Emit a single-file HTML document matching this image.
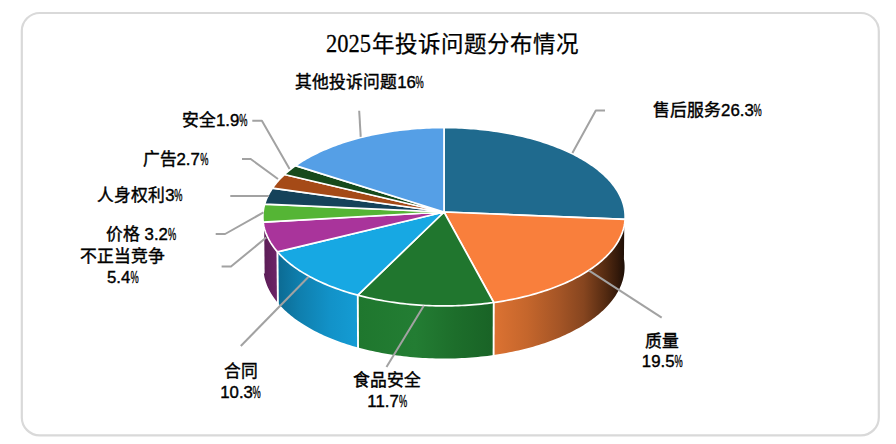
<!DOCTYPE html>
<html lang="zh-CN"><head><meta charset="utf-8"><title>2025年投诉问题分布情况</title>
<style>
html,body{margin:0;padding:0;background:#fff;}
body{width:896px;height:444px;position:relative;overflow:hidden;font-family:"Liberation Sans",sans-serif;}
.title{position:absolute;left:9px;width:887px;top:30.8px;text-align:center;font-family:"Liberation Serif",serif;font-size:22.5px;line-height:28px;color:#000;-webkit-text-stroke:0.25px #000;white-space:nowrap;letter-spacing:0;}
.yr{display:inline-block;transform:scale(1,1.1);transform-origin:0 78%;margin-right:1px;}
.lab{position:absolute;font-family:"Liberation Sans",sans-serif;font-weight:normal;-webkit-text-stroke:0.4px #000;font-size:16.8px;line-height:20.5px;color:#000;white-space:nowrap;text-align:center;transform:translateX(-50%);}
.p{display:inline-block;transform:scaleX(0.55);transform-origin:0 50%;margin-right:-6.7px;}
#l1{left:707.5px;top:101.1px}
#l2{left:662.3px;top:331.9px}
#l3{left:387.2px;top:371.4px}
#l4{left:240.7px;top:362.1px}
#l5{left:122.8px;top:247.3px}
#l6{left:141px;top:224.9px}
#l7{left:140px;top:185.5px}
#l8{left:175.3px;top:150px}
#l9{left:214.8px;top:111.3px}
#l10{left:359.7px;top:73.1px}
</style></head><body>
<svg width="896" height="444" viewBox="0 0 896 444" style="position:absolute;left:0;top:0">
<rect x="21.8" y="13" width="857" height="422.4" rx="18" ry="18" fill="#fff" stroke="#D9D9D9" stroke-width="2.2"/>
<defs><linearGradient id="g1" gradientUnits="userSpaceOnUse" x1="494" y1="0" x2="625" y2="0"><stop offset="0.0000" stop-color="#DC7232"/><stop offset="0.2519" stop-color="#C5662C"/><stop offset="0.4962" stop-color="#A55526"/><stop offset="0.6870" stop-color="#86451F"/><stop offset="0.8550" stop-color="#532A11"/><stop offset="0.9466" stop-color="#33190A"/><stop offset="1.0000" stop-color="#1C0E06"/></linearGradient><linearGradient id="g2" gradientUnits="userSpaceOnUse" x1="358" y1="0" x2="493" y2="0"><stop offset="0.0000" stop-color="#1F772E"/><stop offset="0.4222" stop-color="#237D33"/><stop offset="0.7185" stop-color="#1D6E2B"/><stop offset="1.0000" stop-color="#196326"/></linearGradient><linearGradient id="g3" gradientUnits="userSpaceOnUse" x1="277" y1="0" x2="358" y2="0"><stop offset="0.0000" stop-color="#0C6A92"/><stop offset="0.2840" stop-color="#0F7FAE"/><stop offset="0.6543" stop-color="#1292C8"/><stop offset="1.0000" stop-color="#149CD4"/></linearGradient><linearGradient id="g4" gradientUnits="userSpaceOnUse" x1="263" y1="0" x2="278" y2="0"><stop offset="0.0000" stop-color="#5A1D55"/><stop offset="1.0000" stop-color="#6E2468"/></linearGradient><linearGradient id="g5" gradientUnits="userSpaceOnUse" x1="262" y1="0" x2="264" y2="0"><stop offset="0.0000" stop-color="#5A1D55"/><stop offset="1.0000" stop-color="#5A1D55"/></linearGradient></defs>
<path d="M624.45 208.90L624.70 210.45L624.19 260.51L623.94 258.92ZM624.70 210.45L624.90 212.00L624.38 262.10L624.19 260.51ZM624.90 212.00L625.04 213.55L624.52 263.69L624.38 262.10ZM625.04 213.55L625.13 215.10L624.61 265.28L624.52 263.69ZM625.13 215.10L625.16 216.66L624.64 266.88L624.61 265.28ZM625.16 216.66L625.13 218.21L624.61 268.48L624.64 266.88ZM625.13 218.21L625.05 219.77L624.53 270.08L624.61 268.48ZM625.05 219.77L624.92 221.33L624.40 271.68L624.53 270.08ZM624.92 221.33L624.73 222.89L624.20 273.28L624.40 271.68ZM624.73 222.89L624.48 224.45L623.96 274.88L624.20 273.28ZM624.48 224.45L624.18 226.00L623.66 276.48L623.96 274.88ZM624.18 226.00L623.82 227.56L623.30 278.08L623.66 276.48ZM623.82 227.56L623.41 229.11L622.89 279.68L623.30 278.08ZM623.41 229.11L622.94 230.66L622.42 281.27L622.89 279.68ZM622.94 230.66L622.41 232.21L621.89 282.86L622.42 281.27ZM622.41 232.21L621.83 233.76L621.31 284.45L621.89 282.86ZM621.83 233.76L621.19 235.30L620.68 286.03L621.31 284.45ZM621.19 235.30L620.50 236.84L619.99 287.61L620.68 286.03ZM620.50 236.84L619.75 238.37L619.24 289.18L619.99 287.61ZM619.75 238.37L618.95 239.90L618.44 290.75L619.24 289.18ZM618.95 239.90L618.09 241.42L617.58 292.31L618.44 290.75ZM618.09 241.42L617.17 242.93L616.67 293.87L617.58 292.31ZM617.17 242.93L616.20 244.44L615.70 295.41L616.67 293.87ZM616.20 244.44L615.18 245.94L614.68 296.95L615.70 295.41ZM615.18 245.94L614.10 247.43L613.60 298.49L614.68 296.95ZM614.10 247.43L612.96 248.92L612.47 300.01L613.60 298.49ZM612.96 248.92L611.77 250.39L611.28 301.53L612.47 300.01ZM611.77 250.39L610.53 251.86L610.04 303.03L611.28 301.53ZM610.53 251.86L609.23 253.31L608.75 304.53L610.04 303.03ZM609.23 253.31L607.88 254.76L607.40 306.01L608.75 304.53ZM607.88 254.76L606.48 256.19L606.00 307.48L607.40 306.01ZM606.48 256.19L605.02 257.62L604.54 308.94L606.00 307.48ZM605.02 257.62L603.51 259.03L603.04 310.39L604.54 308.94ZM603.51 259.03L601.95 260.42L601.48 311.83L603.04 310.39ZM601.95 260.42L600.33 261.81L599.87 313.25L601.48 311.83ZM600.33 261.81L598.66 263.18L598.21 314.66L599.87 313.25ZM598.66 263.18L596.95 264.54L596.50 316.06L598.21 314.66ZM596.95 264.54L595.18 265.89L594.73 317.44L596.50 316.06ZM595.18 265.89L593.36 267.22L592.92 318.80L594.73 317.44ZM593.36 267.22L591.49 268.53L591.06 320.15L592.92 318.80ZM591.49 268.53L589.58 269.83L589.15 321.48L591.06 320.15ZM589.58 269.83L587.61 271.11L587.19 322.80L589.15 321.48ZM587.61 271.11L585.60 272.38L585.18 324.10L587.19 322.80ZM585.60 272.38L583.54 273.62L583.12 325.38L585.18 324.10ZM583.54 273.62L581.43 274.86L581.02 326.65L583.12 325.38ZM581.43 274.86L579.28 276.07L578.87 327.89L581.02 326.65ZM579.28 276.07L577.08 277.26L576.68 329.12L578.87 327.89ZM577.08 277.26L574.83 278.44L574.44 330.32L576.68 329.12ZM574.83 278.44L572.54 279.59L572.16 331.51L574.44 330.32ZM572.54 279.59L570.21 280.73L569.83 332.68L572.16 331.51ZM570.21 280.73L567.83 281.84L567.47 333.82L569.83 332.68ZM567.83 281.84L565.42 282.94L565.05 334.95L567.47 333.82ZM565.42 282.94L562.96 284.01L562.60 336.05L565.05 334.95ZM562.96 284.01L560.46 285.07L560.11 337.13L562.60 336.05ZM560.46 285.07L557.92 286.10L557.58 338.19L560.11 337.13ZM557.92 286.10L555.34 287.10L555.00 339.22L557.58 338.19ZM555.34 287.10L552.72 288.09L552.40 340.23L555.00 339.22ZM552.72 288.09L550.07 289.05L549.75 341.22L552.40 340.23ZM550.07 289.05L547.37 289.99L547.06 342.19L549.75 341.22ZM547.37 289.99L544.65 290.91L544.35 343.13L547.06 342.19ZM544.65 290.91L541.89 291.80L541.59 344.04L544.35 343.13ZM541.89 291.80L539.09 292.66L538.80 344.93L541.59 344.04ZM539.09 292.66L536.26 293.50L535.98 345.79L538.80 344.93ZM536.26 293.50L533.40 294.32L533.13 346.63L535.98 345.79ZM533.40 294.32L530.51 295.11L530.25 347.44L533.13 346.63ZM530.51 295.11L527.58 295.88L527.33 348.23L530.25 347.44ZM527.58 295.88L524.63 296.62L524.39 348.99L527.33 348.23ZM524.63 296.62L521.65 297.33L521.42 349.72L524.39 348.99ZM521.65 297.33L518.65 298.01L518.42 350.42L521.42 349.72ZM518.65 298.01L515.61 298.67L515.40 351.10L518.42 350.42ZM515.61 298.67L512.56 299.30L512.35 351.75L515.40 351.10ZM512.56 299.30L509.47 299.91L509.28 352.37L512.35 351.75ZM509.47 299.91L506.37 300.49L506.18 352.96L509.28 352.37ZM506.37 300.49L503.24 301.03L503.06 353.52L506.18 352.96ZM503.24 301.03L500.09 301.55L499.92 354.06L503.06 353.52ZM500.09 301.55L496.93 302.05L496.77 354.56L499.92 354.06ZM496.93 302.05L493.74 302.51L493.59 355.04L496.77 354.56Z" fill="url(#g1)"/>
<path d="M493.74 302.51L490.60 302.94L490.46 355.48L493.59 355.04ZM490.60 302.94L487.44 303.34L487.31 355.89L490.46 355.48ZM487.44 303.34L484.26 303.71L484.14 356.27L487.31 355.89ZM484.26 303.71L481.08 304.05L480.96 356.62L484.14 356.27ZM481.08 304.05L477.88 304.36L477.77 356.94L480.96 356.62ZM477.88 304.36L474.67 304.65L474.57 357.24L477.77 356.94ZM474.67 304.65L471.44 304.91L471.36 357.50L474.57 357.24ZM471.44 304.91L468.21 305.14L468.14 357.74L471.36 357.50ZM468.21 305.14L464.97 305.34L464.91 357.94L468.14 357.74ZM464.97 305.34L461.73 305.51L461.67 358.12L464.91 357.94ZM461.73 305.51L458.47 305.65L458.43 358.27L461.67 358.12ZM458.47 305.65L455.22 305.77L455.18 358.38L458.43 358.27ZM455.22 305.77L451.95 305.85L451.93 358.47L455.18 358.38ZM451.95 305.85L448.69 305.91L448.68 358.53L451.93 358.47ZM448.69 305.91L445.42 305.94L445.42 358.56L448.68 358.53ZM445.42 305.94L442.16 305.93L442.16 358.55L445.42 358.56ZM442.16 305.93L438.89 305.90L438.91 358.52L442.16 358.55ZM438.89 305.90L435.63 305.84L435.65 358.46L438.91 358.52ZM435.63 305.84L432.37 305.75L432.40 358.37L435.65 358.46ZM432.37 305.75L429.11 305.64L429.15 358.25L432.40 358.37ZM429.11 305.64L425.86 305.49L425.91 358.10L429.15 358.25ZM425.86 305.49L422.61 305.31L422.68 357.92L425.91 358.10ZM422.61 305.31L419.37 305.11L419.45 357.71L422.68 357.92ZM419.37 305.11L416.14 304.88L416.23 357.47L419.45 357.71ZM416.14 304.88L412.92 304.62L413.02 357.20L416.23 357.47ZM412.92 304.62L409.71 304.33L409.82 356.90L413.02 357.20ZM409.71 304.33L406.51 304.01L406.63 356.58L409.82 356.90ZM406.51 304.01L403.33 303.66L403.45 356.22L406.63 356.58ZM403.33 303.66L400.16 303.29L400.29 355.84L403.45 356.22ZM400.16 303.29L397.00 302.88L397.14 355.42L400.29 355.84ZM397.00 302.88L393.86 302.45L394.01 354.98L397.14 355.42ZM393.86 302.45L390.73 302.00L390.90 354.51L394.01 354.98ZM390.73 302.00L387.63 301.51L387.80 354.01L390.90 354.51ZM387.63 301.51L384.54 301.00L384.72 353.49L387.80 354.01ZM384.54 301.00L381.48 300.46L381.66 352.93L384.72 353.49ZM381.48 300.46L378.43 299.89L378.63 352.35L381.66 352.93ZM378.43 299.89L375.41 299.30L375.61 351.74L378.63 352.35ZM375.41 299.30L372.41 298.68L372.62 351.10L375.61 351.74ZM372.41 298.68L369.43 298.03L369.66 350.44L372.62 351.10ZM369.43 298.03L366.48 297.36L366.71 349.75L369.66 350.44ZM366.48 297.36L363.56 296.66L363.80 349.04L366.71 349.75ZM363.56 296.66L360.66 295.94L360.91 348.29L363.80 349.04ZM360.66 295.94L357.79 295.19L358.05 347.52L360.91 348.29Z" fill="url(#g2)"/>
<path d="M357.79 295.19L354.96 294.42L355.23 346.73L358.05 347.52ZM354.96 294.42L352.16 293.63L352.43 345.92L355.23 346.73ZM352.16 293.63L349.39 292.81L349.67 345.08L352.43 345.92ZM349.39 292.81L346.65 291.96L346.94 344.21L349.67 345.08ZM346.65 291.96L343.94 291.10L344.24 343.32L346.94 344.21ZM343.94 291.10L341.27 290.21L341.58 342.41L344.24 343.32ZM341.27 290.21L338.63 289.30L338.95 341.48L341.58 342.41ZM338.63 289.30L336.03 288.36L336.35 340.52L338.95 341.48ZM336.03 288.36L333.46 287.41L333.79 339.53L336.35 340.52ZM333.46 287.41L330.93 286.43L331.26 338.53L333.79 339.53ZM330.93 286.43L328.43 285.43L328.78 337.50L331.26 338.53ZM328.43 285.43L325.97 284.41L326.32 336.46L328.78 337.50ZM325.97 284.41L323.55 283.37L323.91 335.39L326.32 336.46ZM323.55 283.37L321.17 282.31L321.54 334.30L323.91 335.39ZM321.17 282.31L318.83 281.22L319.21 333.19L321.54 334.30ZM318.83 281.22L316.53 280.12L316.91 332.05L319.21 333.19ZM316.53 280.12L314.28 279.00L314.66 330.90L316.91 332.05ZM314.28 279.00L312.06 277.86L312.45 329.74L314.66 330.90ZM312.06 277.86L309.89 276.71L310.29 328.55L312.45 329.74ZM309.89 276.71L307.76 275.53L308.16 327.34L310.29 328.55ZM307.76 275.53L305.67 274.34L306.08 326.12L308.16 327.34ZM305.67 274.34L303.63 273.13L304.05 324.87L306.08 326.12ZM303.63 273.13L301.64 271.90L302.06 323.61L304.05 324.87ZM301.64 271.90L299.69 270.66L300.11 322.34L302.06 323.61ZM299.69 270.66L297.78 269.40L298.21 321.04L300.11 322.34ZM297.78 269.40L295.92 268.13L296.36 319.74L298.21 321.04ZM295.92 268.13L294.11 266.84L294.56 318.41L296.36 319.74ZM294.11 266.84L292.35 265.53L292.80 317.07L294.56 318.41ZM292.35 265.53L290.63 264.22L291.09 315.72L292.80 317.07ZM290.63 264.22L288.97 262.89L289.43 314.36L291.09 315.72ZM288.97 262.89L287.35 261.54L287.81 312.98L289.43 314.36ZM287.35 261.54L285.78 260.18L286.25 311.58L287.81 312.98ZM285.78 260.18L284.26 258.82L284.73 310.18L286.25 311.58ZM284.26 258.82L282.79 257.43L283.27 308.76L284.73 310.18ZM282.79 257.43L281.38 256.04L281.85 307.33L283.27 308.76ZM281.38 256.04L280.01 254.64L280.49 305.89L281.85 307.33ZM280.01 254.64L278.69 253.23L279.18 304.44L280.49 305.89ZM278.69 253.23L277.43 251.80L277.91 302.98L279.18 304.44Z" fill="url(#g3)"/>
<path d="M277.43 251.80L276.22 250.38L276.71 301.51L277.91 302.98ZM276.22 250.38L275.06 248.94L275.55 300.04L276.71 301.51ZM275.06 248.94L273.95 247.50L274.45 298.55L275.55 300.04ZM273.95 247.50L272.90 246.04L273.40 297.06L274.45 298.55ZM272.90 246.04L271.89 244.58L272.40 295.56L273.40 297.06ZM271.89 244.58L270.94 243.12L271.45 294.06L272.40 295.56ZM270.94 243.12L270.05 241.64L270.55 292.54L271.45 294.06ZM270.05 241.64L269.20 240.16L269.71 291.02L270.55 292.54ZM269.20 240.16L268.41 238.68L268.92 289.50L269.71 291.02ZM268.41 238.68L267.67 237.19L268.18 287.97L268.92 289.50ZM267.67 237.19L266.98 235.69L267.49 286.43L268.18 287.97ZM266.98 235.69L266.34 234.19L266.86 284.89L267.49 286.43ZM266.34 234.19L265.76 232.69L266.28 283.35L266.86 284.89ZM265.76 232.69L265.23 231.18L265.75 281.80L266.28 283.35ZM265.23 231.18L264.76 229.67L265.28 280.25L265.75 281.80ZM264.76 229.67L264.33 228.16L264.85 278.70L265.28 280.25ZM264.33 228.16L263.96 226.65L264.48 277.14L264.85 278.70ZM263.96 226.65L263.65 225.13L264.17 275.59L264.48 277.14ZM263.65 225.13L263.38 223.62L263.90 274.03L264.17 275.59ZM263.38 223.62L263.17 222.10L263.69 272.47L263.90 274.03Z" fill="url(#g4)"/>
<path d="M263.17 222.10L263.02 220.63L263.54 270.96L263.69 272.47ZM263.02 220.63L262.91 219.16L263.43 269.45L263.54 270.96ZM262.91 219.16L262.85 217.69L263.37 267.94L263.43 269.45ZM262.85 217.69L262.85 216.22L263.37 266.43L263.37 267.94ZM262.85 216.22L262.89 214.75L263.41 264.92L263.37 266.43ZM262.89 214.75L262.98 213.28L263.50 263.42L263.41 264.92ZM262.98 213.28L263.12 211.82L263.64 261.92L263.50 263.42ZM263.12 211.82L263.31 210.36L263.83 260.42L263.64 261.92ZM263.31 210.36L263.55 208.90L264.06 258.92L263.83 260.42Z" fill="url(#g5)"/>
<path d="M493.74 302.51L493.59 356.04" stroke="#fff" stroke-width="1.9" fill="none"/>
<path d="M357.79 295.19L358.05 348.52" stroke="#fff" stroke-width="1.9" fill="none"/>
<path d="M277.43 251.80L277.91 303.98" stroke="#fff" stroke-width="1.9" fill="none"/>
<path d="M263.17 222.10L263.69 273.47" stroke="#fff" stroke-width="1.9" fill="none"/>
<path d="M444.00 212.00L444.00 127.55L446.99 127.56L449.97 127.60L452.96 127.66L455.94 127.74L458.92 127.85L461.90 127.99L464.87 128.14L467.84 128.32L470.80 128.53L473.75 128.76L476.70 129.01L479.63 129.29L482.56 129.59L485.48 129.92L488.39 130.27L491.28 130.64L494.17 131.04L497.04 131.46L499.89 131.90L502.74 132.37L505.56 132.86L508.37 133.37L511.17 133.91L513.95 134.47L516.70 135.05L519.44 135.65L522.16 136.28L524.86 136.93L527.54 137.60L530.20 138.29L532.83 139.01L535.44 139.75L538.03 140.51L540.59 141.29L543.13 142.09L545.64 142.91L548.12 143.75L550.58 144.62L553.01 145.50L555.41 146.41L557.78 147.34L560.11 148.28L562.42 149.25L564.70 150.23L566.94 151.23L569.15 152.26L571.33 153.30L573.47 154.36L575.58 155.44L577.65 156.53L579.69 157.65L581.68 158.78L583.65 159.93L585.57 161.09L587.45 162.27L589.30 163.47L591.10 164.69L592.87 165.92L594.59 167.16L596.27 168.42L597.91 169.70L599.51 170.99L601.06 172.29L602.57 173.61L604.03 174.94L605.45 176.29L606.82 177.65L608.15 179.02L609.43 180.40L610.67 181.79L611.86 183.20L612.99 184.61L614.09 186.04L615.13 187.48L616.12 188.92L617.06 190.38L617.96 191.85L618.80 193.32L619.59 194.80L620.33 196.29L621.02 197.79L621.66 199.29L622.24 200.81L622.77 202.32L623.25 203.85L623.68 205.37L624.05 206.91L624.37 208.44L624.64 209.98L624.85 211.53L625.00 213.08L625.11 214.63L625.15 216.18L625.15 217.73L625.08 219.29Z" fill="#1F6A8E" stroke="#fff" stroke-width="1.7" stroke-linejoin="round"/>
<path d="M444.00 212.00L625.08 219.29L624.97 220.83L624.79 222.38L624.57 223.92L624.29 225.46L623.95 227.00L623.56 228.54L623.12 230.08L622.62 231.61L622.07 233.15L621.46 234.67L620.79 236.20L620.08 237.72L619.30 239.23L618.48 240.74L617.60 242.24L616.66 243.74L615.67 245.23L614.63 246.71L613.53 248.18L612.38 249.65L611.17 251.10L609.92 252.55L608.61 253.99L607.24 255.41L605.83 256.83L604.36 258.23L602.85 259.63L601.28 261.01L599.66 262.37L597.99 263.73L596.27 265.07L594.50 266.39L592.68 267.70L590.81 269.00L588.90 270.28L586.93 271.54L584.92 272.79L582.87 274.02L580.77 275.23L578.62 276.43L576.43 277.61L574.19 278.77L571.91 279.90L569.59 281.02L567.23 282.12L564.82 283.20L562.38 284.26L559.89 285.30L557.37 286.31L554.81 287.31L552.21 288.28L549.57 289.23L546.90 290.15L544.19 291.05L541.45 291.93L538.68 292.79L535.87 293.62L533.04 294.42L530.17 295.20L527.27 295.96L524.34 296.69L521.39 297.39L518.41 298.07L515.41 298.72L512.38 299.34L509.32 299.94L506.25 300.51L503.15 301.05L500.03 301.56L496.90 302.05L493.74 302.51Z" fill="#F97F3C" stroke="#fff" stroke-width="1.7" stroke-linejoin="round"/>
<path d="M444.00 212.00L493.74 302.51L490.60 302.94L487.44 303.34L484.26 303.71L481.08 304.05L477.88 304.36L474.67 304.65L471.44 304.91L468.21 305.14L464.97 305.34L461.73 305.51L458.47 305.65L455.22 305.77L451.95 305.85L448.69 305.91L445.42 305.94L442.16 305.93L438.89 305.90L435.63 305.84L432.37 305.75L429.11 305.64L425.86 305.49L422.61 305.31L419.37 305.11L416.14 304.88L412.92 304.62L409.71 304.33L406.51 304.01L403.33 303.66L400.16 303.29L397.00 302.88L393.86 302.45L390.73 302.00L387.63 301.51L384.54 301.00L381.48 300.46L378.43 299.89L375.41 299.30L372.41 298.68L369.43 298.03L366.48 297.36L363.56 296.66L360.66 295.94L357.79 295.19Z" fill="#20762E" stroke="#fff" stroke-width="1.7" stroke-linejoin="round"/>
<path d="M444.00 212.00L357.79 295.19L354.96 294.42L352.16 293.63L349.39 292.81L346.65 291.96L343.94 291.10L341.27 290.21L338.63 289.30L336.03 288.36L333.46 287.41L330.93 286.43L328.43 285.43L325.97 284.41L323.55 283.37L321.17 282.31L318.83 281.22L316.53 280.12L314.28 279.00L312.06 277.86L309.89 276.71L307.76 275.53L305.67 274.34L303.63 273.13L301.64 271.90L299.69 270.66L297.78 269.40L295.92 268.13L294.11 266.84L292.35 265.53L290.63 264.22L288.97 262.89L287.35 261.54L285.78 260.18L284.26 258.82L282.79 257.43L281.38 256.04L280.01 254.64L278.69 253.23L277.43 251.80Z" fill="#17A8E3" stroke="#fff" stroke-width="1.7" stroke-linejoin="round"/>
<path d="M444.00 212.00L277.43 251.80L276.22 250.38L275.06 248.94L273.95 247.50L272.90 246.04L271.89 244.58L270.94 243.12L270.05 241.64L269.20 240.16L268.41 238.68L267.67 237.19L266.98 235.69L266.34 234.19L265.76 232.69L265.23 231.18L264.76 229.67L264.33 228.16L263.96 226.65L263.65 225.13L263.38 223.62L263.17 222.10Z" fill="#A9349B" stroke="#fff" stroke-width="1.7" stroke-linejoin="round"/>
<path d="M444.00 212.00L263.17 222.10L263.01 220.60L262.91 219.10L262.85 217.60L262.85 216.11L262.90 214.61L262.99 213.12L263.14 211.63L263.34 210.14L263.59 208.65L263.89 207.17L264.24 205.70L264.64 204.22Z" fill="#55B535" stroke="#fff" stroke-width="1.7" stroke-linejoin="round"/>
<path d="M444.00 212.00L264.64 204.22L265.10 202.72L265.61 201.22L266.17 199.73L266.78 198.25L267.44 196.77L268.16 195.30L268.92 193.84L269.73 192.38L270.59 190.94L271.50 189.50L272.46 188.07Z" fill="#15425A" stroke="#fff" stroke-width="1.7" stroke-linejoin="round"/>
<path d="M444.00 212.00L272.46 188.07L273.46 186.66L274.50 185.27L275.59 183.88L276.72 182.51L277.90 181.14L279.13 179.79L280.39 178.44L281.71 177.11L283.06 175.79L284.46 174.49Z" fill="#A54A17" stroke="#fff" stroke-width="1.7" stroke-linejoin="round"/>
<path d="M444.00 212.00L284.46 174.49L285.91 173.18L287.41 171.90L288.94 170.62L290.52 169.36L292.14 168.11L293.79 166.88L295.49 165.66Z" fill="#164A1B" stroke="#fff" stroke-width="1.7" stroke-linejoin="round"/>
<path d="M444.00 212.00L295.49 165.66L297.26 164.44L299.07 163.23L300.91 162.04L302.80 160.87L304.72 159.71L306.68 158.57L308.68 157.44L310.71 156.34L312.78 155.25L314.89 154.18L317.03 153.12L319.21 152.09L321.41 151.07L323.65 150.08L325.93 149.10L328.23 148.14L330.57 147.20L332.93 146.28L335.33 145.38L337.75 144.50L340.20 143.64L342.68 142.81L345.18 141.99L347.71 141.19L350.27 140.42L352.85 139.66L355.45 138.93L358.08 138.22L360.73 137.53L363.40 136.86L366.10 136.22L368.81 135.60L371.54 135.00L374.29 134.42L377.06 133.86L379.84 133.33L382.65 132.82L385.47 132.33L388.30 131.87L391.15 131.43L394.01 131.01L396.88 130.62L399.77 130.25L402.67 129.90L405.57 129.58L408.49 129.28L411.42 129.00L414.35 128.75L417.30 128.52L420.25 128.32L423.20 128.14L426.16 127.98L429.13 127.85L432.10 127.74L435.07 127.66L438.05 127.60L441.02 127.56L444.00 127.55Z" fill="#559FE6" stroke="#fff" stroke-width="1.7" stroke-linejoin="round"/>
<polyline points="572.4,153.0 595.8,110.6 605.0,110.6" fill="none" stroke="#A2A2A2" stroke-width="2" stroke-linejoin="round"/>
<polyline points="589.1,270.7 661.7,317.6" fill="none" stroke="#A2A2A2" stroke-width="2" stroke-linejoin="round"/>
<polyline points="423.8,305.7 386.5,367.0" fill="none" stroke="#A2A2A2" stroke-width="2" stroke-linejoin="round"/>
<polyline points="308.6,276.8 240.8,346.0" fill="none" stroke="#A2A2A2" stroke-width="2" stroke-linejoin="round"/>
<polyline points="266.2,237.6 231.0,266.5 221.6,266.5" fill="none" stroke="#A2A2A2" stroke-width="2" stroke-linejoin="round"/>
<polyline points="263.5,212.4 225.1,234.0 215.7,234.0" fill="none" stroke="#A2A2A2" stroke-width="2" stroke-linejoin="round"/>
<polyline points="268.9,196.0 230.3,196.0" fill="none" stroke="#A2A2A2" stroke-width="2" stroke-linejoin="round"/>
<polyline points="278.0,179.0 250.7,159.0 242.0,159.0" fill="none" stroke="#A2A2A2" stroke-width="2" stroke-linejoin="round"/>
<polyline points="289.6,169.1 261.9,120.8 252.3,120.8" fill="none" stroke="#A2A2A2" stroke-width="2" stroke-linejoin="round"/>
<polyline points="360.7,136.9 359.2,110.8" fill="none" stroke="#A2A2A2" stroke-width="2" stroke-linejoin="round"/>
</svg>
<div class="title"><span class="yr">2025</span>年投诉问题分布情况</div>
<div class="lab" id="l1">售后服务26.3<span class="p">%</span></div>
<div class="lab" id="l2">质量<br>19.5<span class="p">%</span></div>
<div class="lab" id="l3">食品安全<br>11.7<span class="p">%</span></div>
<div class="lab" id="l4">合同<br>10.3<span class="p">%</span></div>
<div class="lab" id="l5">不正当竞争<br>5.4<span class="p">%</span></div>
<div class="lab" id="l6">价格 3.2<span class="p">%</span></div>
<div class="lab" id="l7">人身权利3<span class="p">%</span></div>
<div class="lab" id="l8">广告2.7<span class="p">%</span></div>
<div class="lab" id="l9">安全1.9<span class="p">%</span></div>
<div class="lab" id="l10">其他投诉问题16<span class="p">%</span></div>
</body></html>
